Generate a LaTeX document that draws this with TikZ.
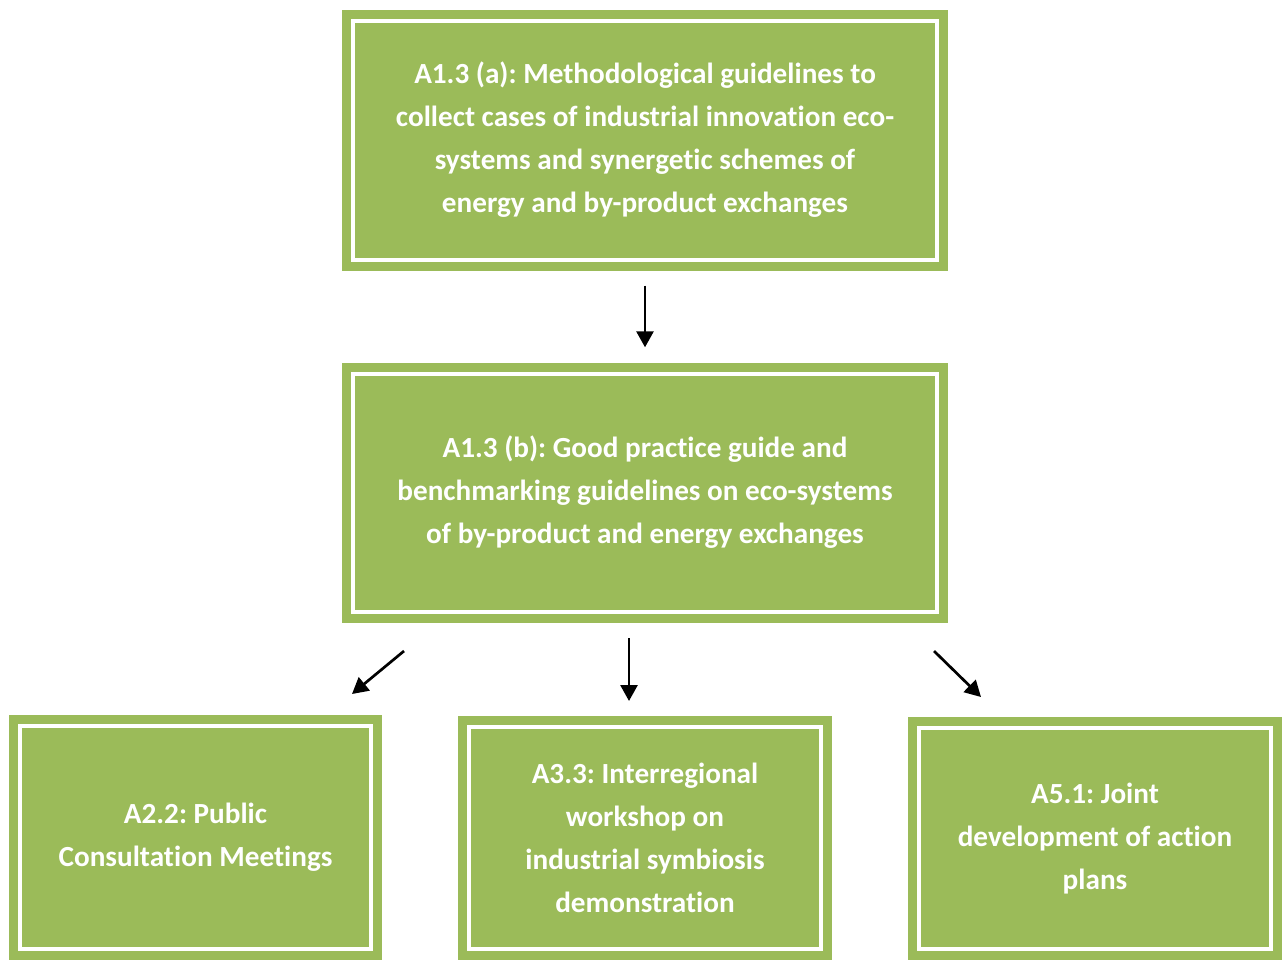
\documentclass[tikz,border=0pt]{standalone}
\usepackage{fontspec}
\setmainfont{Carlito}[Ligatures={NoCommon}]
\usetikzlibrary{arrows.meta}
\definecolor{boxgreen}{HTML}{9BBB59}
\frenchspacing
\tikzset{
  taskbox/.style={
    fill=boxgreen, draw=none, inner sep=0pt, align=center, text=white,
    font=\fontsize{29.2}{43}\selectfont\bfseries,
    path picture={\draw[white, line width=4pt]
      ([shift={(11pt,11pt)}]path picture bounding box.south west) rectangle
      ([shift={(-11pt,-11pt)}]path picture bounding box.north east);}
  },
  flow/.style={line width=2.7pt, -{Triangle[length=16pt,width=17pt]}}
}
\begin{document}
\begin{tikzpicture}[x=1pt,y=-1pt]
  \useasboundingbox (0,0) rectangle (1287,959);
  \node[taskbox, minimum width=606pt, minimum height=261pt] (a) at (645,140)
    {A1.3 (a): Methodological guidelines to\\collect cases of industrial innovation eco-\\systems and synergetic schemes of\\energy and by-product exchanges};
  \node[taskbox, minimum width=606pt, minimum height=260pt] (b) at (645,492.5)
    {A1.3 (b): Good practice guide and\\benchmarking guidelines on eco-systems\\of by-product and energy exchanges};
  \node[taskbox, minimum width=373pt, minimum height=245pt] (c) at (195.5,837.5)
    {A2.2: Public\\Consultation Meetings};
  \node[taskbox, minimum width=374pt, minimum height=244pt] (d) at (645,837.5)
    {A3.3: Interregional\\workshop on\\industrial symbiosis\\demonstration};
  \node[taskbox, minimum width=374pt, minimum height=243pt] (e) at (1095,838.5)
    {A5.1: Joint\\development of action\\plans};
  % free-standing arrow ends below the second box
  \coordinate (cl1) at (404,651);
  \coordinate (cl2) at (352,694);
  \coordinate (cm1) at (629,638);
  \coordinate (cm2) at (629,701);
  \coordinate (cr1) at (934,651);
  \coordinate (cr2) at (981,697);
  \draw[flow, shorten <=15pt, shorten >=15pt] (a) -- (b);
  \draw[flow] (cl1) -- (cl2);
  \draw[flow] (cm1) -- (cm2);
  \draw[flow] (cr1) -- (cr2);
\end{tikzpicture}
\end{document}
